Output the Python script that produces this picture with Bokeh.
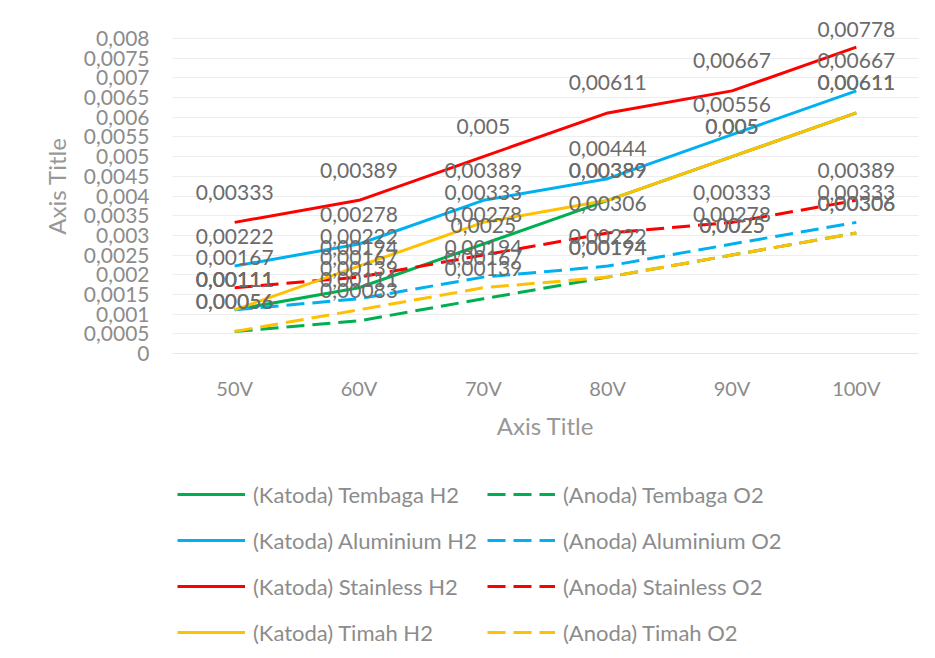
from bokeh.plotting import figure
from bokeh.layouts import column
from bokeh.models import (FactorRange, Range1d, FixedTicker, CustomJSTickFormatter,
                          Legend, LegendItem, ColumnDataSource)
from bokeh.core.properties import value
from bokeh.embed import file_html
from bokeh.resources import INLINE

# ---------------- data ----------------
categories = ["50V", "60V", "70V", "80V", "90V", "100V"]

tembaga_h2 = [0.00111, 0.00167, 0.00278, 0.00389, 0.005, 0.00611]
tembaga_o2 = [0.00056, 0.00083, 0.00139, 0.00194, 0.0025, 0.00306]
aluminium_h2 = [0.00222, 0.00278, 0.00389, 0.00444, 0.00556, 0.00667]
aluminium_o2 = [0.00111, 0.00139, 0.00194, 0.00222, 0.00278, 0.00333]
stainless_h2 = [0.00333, 0.00389, 0.005, 0.00611, 0.00667, 0.00778]
stainless_o2 = [0.00167, 0.00194, 0.0025, 0.00306, 0.00333, 0.00389]
timah_h2 = [0.00111, 0.00222, 0.00333, 0.00389, 0.005, 0.00611]
timah_o2 = [0.00056, 0.00111, 0.00167, 0.00194, 0.0025, 0.00306]

y_ticks = [0, 0.0005, 0.001, 0.0015, 0.002, 0.0025, 0.003, 0.0035, 0.004,
           0.0045, 0.005, 0.0055, 0.006, 0.0065, 0.007, 0.0075, 0.008]

series_names = ["(Katoda) Tembaga H2", "(Anoda) Tembaga O2",
                "(Katoda) Aluminium H2", "(Anoda) Aluminium O2",
                "(Katoda) Stainless H2", "(Anoda) Stainless O2",
                "(Katoda) Timah H2", "(Anoda) Timah O2"]
series_values = [tembaga_h2, tembaga_o2, aluminium_h2, aluminium_o2,
                 stainless_h2, stainless_o2, timah_h2, timah_o2]
series_colors = ["#00B050", "#00B050", "#00B0F0", "#00B0F0",
                 "#FF0000", "#FF0000", "#FFC000", "#FFC000"]
series_dashed = [False, True, False, True, False, True, False, True]

# ---------------- styling ----------------
FONT = "Lato"
AXIS_MAX = 0.008
PLOT_H = 315           # px from 0 to AXIS_MAX
FRAME_H = 335
PX_PER_UNIT = PLOT_H / AXIS_MAX
Y_END = FRAME_H / PX_PER_UNIT
DASH = "18 8"

p = figure(width=926, height=450,
           x_range=FactorRange(factors=categories, range_padding=0),
           y_range=Range1d(0, Y_END),
           output_backend="svg", toolbar_location=None,
           min_border_left=172, min_border_right=8,
           min_border_top=18, min_border_bottom=97)

p.outline_line_color = None
p.background_fill_color = "white"
p.border_fill_color = "white"
p.xgrid.grid_line_color = None
p.ygrid.grid_line_color = "#EDEDED"
p.ygrid.grid_line_width = 1

# y axis
p.yaxis.ticker = FixedTicker(ticks=y_ticks)
p.yaxis.formatter = CustomJSTickFormatter(
    code="return tick.toFixed(4).replace(/0+$/, '').replace(/\\.$/, '').replace('.', ',');")
p.yaxis.axis_line_color = None
p.yaxis.major_tick_line_color = None
p.yaxis.major_tick_out = 0
p.yaxis.major_tick_in = 0
p.yaxis.minor_tick_line_color = None
p.yaxis.major_label_text_font = FONT
p.yaxis.major_label_text_font_size = "21px"
p.yaxis.major_label_text_color = "#8C8C8C"
p.yaxis.major_label_standoff = 23
p.yaxis.axis_label = "Axis Title"
p.yaxis.axis_label_text_font = FONT
p.yaxis.axis_label_text_font_size = "24px"
p.yaxis.axis_label_text_font_style = "normal"
p.yaxis.axis_label_text_color = "#989898"
p.yaxis.axis_label_standoff = 10

# x axis
p.xaxis.axis_line_color = "#E6E6E6"
p.xaxis.major_tick_line_color = None
p.xaxis.major_tick_out = 0
p.xaxis.major_tick_in = 0
p.xaxis.minor_tick_line_color = None
p.xaxis.major_label_text_font = FONT
p.xaxis.major_label_text_font_size = "20px"
p.xaxis.major_label_text_color = "#8C8C8C"
p.xaxis.major_label_standoff = 22
p.xaxis.axis_label = "Axis Title"
p.xaxis.axis_label_text_font = FONT
p.xaxis.axis_label_text_font_size = "24px"
p.xaxis.axis_label_text_font_style = "normal"
p.xaxis.axis_label_text_color = "#989898"
p.xaxis.axis_label_standoff = 8

# lines
for name, vals, col, dashed in zip(series_names, series_values, series_colors, series_dashed):
    p.line(x=categories, y=vals, line_color=col, line_width=3,
           line_dash=DASH if dashed else "solid",
           line_join="round", line_cap="butt")

# data labels (centred ~30px above the point, kept inside the chart area)
LABEL_OFF = 30 / PX_PER_UNIT
LABEL_MAX = Y_END - 11 / PX_PER_UNIT
for vals in series_values:
    src = ColumnDataSource(dict(
        x=categories,
        y=[min(v + LABEL_OFF, LABEL_MAX) for v in vals],
        t=[str(v).replace(".", ",") for v in vals]))
    p.text(x="x", y="y", text="t", source=src,
           text_font=value(FONT), text_font_size="21px",
           text_color="#6B6B6B", text_align="center", text_baseline="middle")

# ---------------- legend panel ----------------
# Same series drawn into a second plot whose visible y window lies far above
# the data, so only the legend entries show there.
lg = figure(width=926, height=200,
            x_range=FactorRange(factors=categories, range_padding=0),
            y_range=Range1d(1, 2),
            output_backend="svg", toolbar_location=None,
            x_axis_location=None, y_axis_location=None,
            min_border_left=172, min_border_right=8,
            min_border_top=0, min_border_bottom=0)
lg.outline_line_color = None
lg.grid.grid_line_color = None
lg.background_fill_color = "white"
lg.border_fill_color = "white"

legend_renderers = []
for name, vals, col, dashed in zip(series_names, series_values, series_colors, series_dashed):
    r = lg.line(x=categories, y=vals, line_color=col, line_width=3,
                line_dash=DASH if dashed else "solid")
    legend_renderers.append(r)

# left column cathode (solid), right column anode (dashed)
order = [0, 2, 4, 6, 1, 3, 5, 7]
items = [LegendItem(label=series_names[i], renderers=[legend_renderers[i]]) for i in order]
legend = Legend(items=items, location=(5, 0), orientation="vertical", ncols=2,
                label_text_font=FONT, label_text_font_size="22px",
                label_text_color="#8C8C8C",
                glyph_width=68, glyph_height=36, label_height=36,
                label_standoff=8, spacing=10, padding=0, margin=0,
                border_line_color=None, background_fill_alpha=0)
lg.add_layout(legend)

layout = column(p, lg, spacing=0)
open("out.html", "w").write(file_html(layout, INLINE))
